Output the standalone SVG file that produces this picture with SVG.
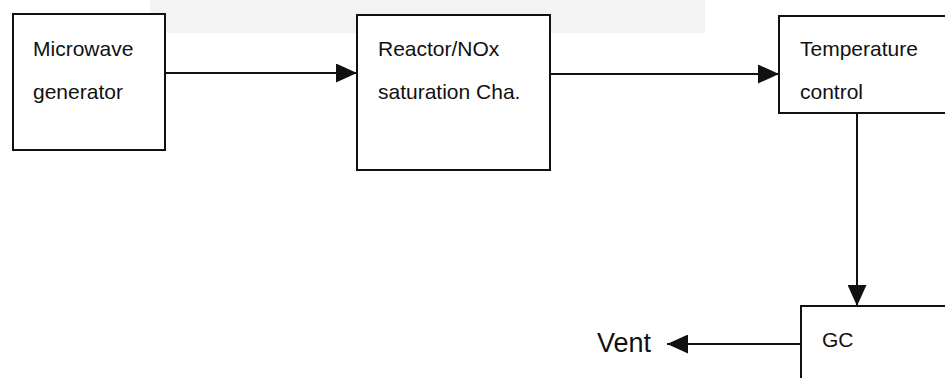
<svg xmlns="http://www.w3.org/2000/svg" width="945" height="378" viewBox="0 0 945 378">
<style>
.box{fill:#fff;stroke:#111;stroke-width:2}
.lbl{font-family:"Liberation Sans",Arial,sans-serif;font-size:21px;fill:#111}
.conn{stroke:#111;stroke-width:2;fill:none}
</style>
<defs>
<marker id="arr" markerUnits="userSpaceOnUse" markerWidth="21" markerHeight="19" refX="21" refY="9.5" orient="auto">
<path d="M0,0 L21,9.5 L0,19 z" fill="#111"/>
</marker>
</defs>
<rect x="0" y="0" width="945" height="378" fill="#fff"/>
<rect x="150" y="0" width="555" height="33" fill="#f3f3f3"/>
<g id="connectors">
<line class="conn" x1="165" y1="73" x2="357" y2="73" marker-end="url(#arr)"/>
<line class="conn" x1="550" y1="74" x2="779" y2="74" marker-end="url(#arr)"/>
<line class="conn" x1="857" y1="113" x2="857" y2="306" marker-end="url(#arr)"/>
<line class="conn" x1="801" y1="344" x2="667" y2="344" marker-end="url(#arr)"/>
</g>
<g id="microwave">
<rect class="box" x="13" y="14" width="152" height="136"/>
<text class="lbl" x="33" y="56">Microwave</text>
<text class="lbl" x="33" y="99">generator</text>
</g>
<g id="reactor">
<rect class="box" x="357" y="15" width="193" height="155"/>
<text class="lbl" x="378" y="56">Reactor/NOx</text>
<text class="lbl" x="378" y="99">saturation Cha.</text>
</g>
<g id="temperature">
<rect class="box" x="779" y="16" width="200" height="97"/>
<text class="lbl" x="800" y="56">Temperature</text>
<text class="lbl" x="800" y="99">control</text>
</g>
<g id="gc">
<rect class="box" x="801" y="306" width="200" height="100"/>
<text class="lbl" x="822" y="347">GC</text>
</g>
<g id="vent">
<text class="lbl" x="597" y="352" style="font-size:27px">Vent</text>
</g>
</svg>
